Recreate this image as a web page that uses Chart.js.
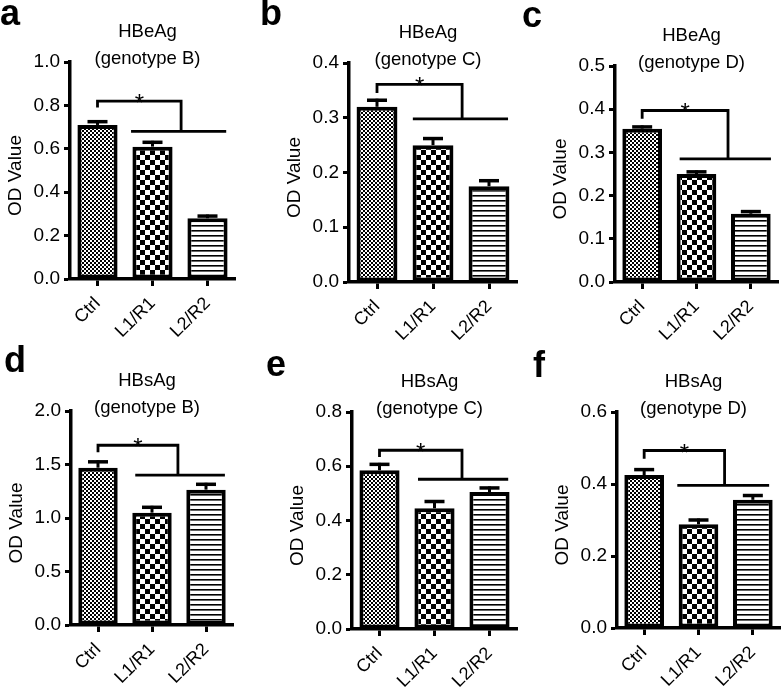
<!DOCTYPE html>
<html><head><meta charset="utf-8">
<script src="https://cdn.jsdelivr.net/npm/chart.js@4.4.0/dist/chart.umd.min.js"></script>
<style>
html,body{margin:0;padding:0;background:#fff;}
#wrap{position:relative;width:783px;height:689px;overflow:hidden;background:#fff;}
#wrap canvas{position:absolute;}
</style></head><body><div id="wrap"></div>
<script>
// ---------------- DATA ----------------
const categories = ['Ctrl', 'L1/R1', 'L2/R2'];
const panelLetters = ['a', 'b', 'c', 'd', 'e', 'f'];
const antigens = ['HBeAg', 'HBeAg', 'HBeAg', 'HBsAg', 'HBsAg', 'HBsAg'];
const genotypes = ['(genotype B)', '(genotype C)', '(genotype D)', '(genotype B)', '(genotype C)', '(genotype D)'];
const yAxisTitle = 'OD Value';

const valuesA = [0.71, 0.61, 0.28];
const errorsA = [0.015, 0.02, 0.01];
const valuesB = [0.32, 0.25, 0.175];
const errorsB = [0.012, 0.012, 0.01];
const valuesC = [0.355, 0.25, 0.158];
const errorsC = [0.004, 0.005, 0.005];
const valuesD = [1.47, 1.05, 1.265];
const errorsD = [0.055, 0.05, 0.05];
const valuesE = [0.585, 0.445, 0.505];
const errorsE = [0.022, 0.025, 0.015];
const valuesF = [0.425, 0.288, 0.356];
const errorsF = [0.015, 0.012, 0.012];

const yMaxes = [1.0, 0.4, 0.5, 2.0, 0.8, 0.6];
const yTickSteps = [0.2, 0.1, 0.1, 0.5, 0.2, 0.2];
const yTickDecimals = [1, 1, 1, 1, 1, 1];

// significance bracket levels (data units): [top, ctrl stub end, lower line]
const bracketLevels = [
  [0.82, 0.79, 0.68],
  [0.361, 0.345, 0.298],
  [0.397, 0.378, 0.285],
  [1.68, 1.615, 1.40],
  [0.659, 0.634, 0.552],
  [0.493, 0.47, 0.396]
];
// bracket x positions (category index units): [drop, lower start, lower end]
const bracketSpans = [
  [1.52, 0.61, 2.34],
  [1.52, 0.64, 2.34],
  [1.58, 0.69, 2.37],
  [1.48, 0.69, 2.35],
  [1.50, 0.70, 2.34],
  [1.48, 0.61, 2.30]
];
const significanceMark = '*';

const allValues = [valuesA, valuesB, valuesC, valuesD, valuesE, valuesF];
const allErrors = [errorsA, errorsB, errorsC, errorsD, errorsE, errorsF];

// ---------------- LAYOUT (pixels) ----------------
const cells = [
  {x: 0, y: 0}, {x: 261, y: 0}, {x: 522, y: 0},
  {x: 0, y: 344}, {x: 261, y: 344}, {x: 522, y: 344}
];
const cellW = 261, cellH = 345;
const plotBoxes = [
  {L: 70, R: 235, T: 62, B: 279},
  {L: 349, R: 517, T: 63, B: 282},
  {L: 615, R: 778, T: 66, B: 282},
  {L: 71, R: 233, T: 411, B: 625},
  {L: 352, R: 517, T: 412, B: 629},
  {L: 617, R: 780, T: 412, B: 628}
];
const letterPos = [
  {x: 0, y: 25}, {x: 260, y: 25}, {x: 522, y: 27},
  {x: 4, y: 372}, {x: 266, y: 376}, {x: 533, y: 377}
];
const FONT = '"Liberation Sans", Arial, Helvetica, sans-serif';

// ---------------- PATTERNS ----------------
function makePattern(kind) {
  const c = document.createElement('canvas');
  const g = c.getContext('2d');
  if (kind === 'fine') {
    c.width = 4; c.height = 4;
    g.fillStyle = '#fff'; g.fillRect(0, 0, 4, 4);
    g.fillStyle = '#000'; g.fillRect(0, 0, 2, 2); g.fillRect(2, 2, 2, 2);
  } else if (kind === 'coarse') {
    c.width = 10; c.height = 10;
    g.fillStyle = '#fff'; g.fillRect(0, 0, 10, 10);
    g.fillStyle = '#000'; g.fillRect(0, 0, 5, 5); g.fillRect(5, 5, 5, 5);
  } else {
    c.width = 5; c.height = 5;
    g.fillStyle = '#fff'; g.fillRect(0, 0, 5, 5);
    g.fillStyle = '#000'; g.fillRect(0, 0, 5, 1.6);
  }
  return g.createPattern(c, 'repeat');
}

// ---------------- DECORATION PLUGIN ----------------
const decor = {
  id: 'decor',
  afterDatasetsDraw(chart, args, o) {
    const p = o.panel;
    const ctx = chart.ctx, xs = chart.scales.x, ys = chart.scales.y;
    const meta = chart.getDatasetMeta(0);
    const vals = allValues[p], errs = allErrors[p];
    ctx.save();
    ctx.strokeStyle = '#000';
    ctx.lineCap = 'butt';
    // error bars
    meta.data.forEach((bar, i) => {
      const y0 = ys.getPixelForValue(vals[i]);
      const y1 = ys.getPixelForValue(vals[i] + errs[i]);
      ctx.lineWidth = 3;
      ctx.beginPath(); ctx.moveTo(bar.x, y0); ctx.lineTo(bar.x, y1 - 1.5); ctx.stroke();
      ctx.lineWidth = 3.5;
      ctx.beginPath(); ctx.moveTo(bar.x - 10, y1); ctx.lineTo(bar.x + 10, y1); ctx.stroke();
    });
    // significance bracket
    const lv = bracketLevels[p], sp = bracketSpans[p];
    const yTop = ys.getPixelForValue(lv[0]);
    const yStub = ys.getPixelForValue(lv[1]);
    const yLow = ys.getPixelForValue(lv[2]);
    const xCtrl = xs.getPixelForValue(0);
    const xDrop = xs.getPixelForValue(sp[0]);
    ctx.lineWidth = 2.8;
    ctx.lineJoin = 'miter';
    ctx.beginPath();
    ctx.moveTo(xCtrl, yStub); ctx.lineTo(xCtrl, yTop); ctx.lineTo(xDrop, yTop); ctx.lineTo(xDrop, yLow);
    ctx.stroke();
    ctx.beginPath();
    ctx.moveTo(xs.getPixelForValue(sp[1]), yLow); ctx.lineTo(xs.getPixelForValue(sp[2]), yLow);
    ctx.stroke();
    ctx.fillStyle = '#000';
    ctx.font = '24px ' + FONT;
    ctx.textAlign = 'center';
    ctx.textBaseline = 'alphabetic';
    ctx.fillText(significanceMark, (xCtrl + xDrop) / 2, yTop + 10);
    ctx.restore();
  },
  afterDraw(chart, args, o) {
    const p = o.panel;
    const ctx = chart.ctx, ca = chart.chartArea;
    ctx.save();
    ctx.fillStyle = '#000';
    // panel letter
    const cell = cells[p];
    ctx.font = 'bold 36px ' + FONT;
    ctx.textAlign = 'left'; ctx.textBaseline = 'alphabetic';
    ctx.fillText(panelLetters[p], letterPos[p].x - cell.x, letterPos[p].y - cell.y);
    // title
    const cx = (ca.left + ca.right) / 2 - 5;
    ctx.font = '18.5px ' + FONT;
    ctx.textAlign = 'center'; ctx.textBaseline = 'middle';
    ctx.fillText(antigens[p], cx, ca.top - 30);
    ctx.fillText(genotypes[p], cx, ca.top - 3);
    // y axis title
    ctx.save();
    ctx.translate(ca.left - 54, (ca.top + ca.bottom) / 2 + 5);
    ctx.rotate(-Math.PI / 2);
    ctx.font = '19px ' + FONT;
    ctx.fillText(yAxisTitle, 0, 0);
    ctx.restore();
    ctx.restore();
  }
};

// ---------------- BUILD ----------------
const wrap = document.getElementById('wrap');
const patterns = [makePattern('fine'), makePattern('coarse'), makePattern('stripe')];

for (let p = 0; p < 6; p++) {
  const cell = cells[p], box = plotBoxes[p];
  const cv = document.createElement('canvas');
  cv.width = cellW; cv.height = cellH;
  cv.style.left = cell.x + 'px'; cv.style.top = cell.y + 'px';
  cv.style.width = cellW + 'px'; cv.style.height = cellH + 'px';
  wrap.appendChild(cv);
  const yW = box.L - cell.x;
  const xH = cell.y + cellH - box.B;
  new Chart(cv.getContext('2d'), {
    type: 'bar',
    data: {
      labels: categories,
      datasets: [{
        data: allValues[p],
        backgroundColor: patterns,
        borderColor: '#000',
        borderWidth: 4,
        borderSkipped: false,
        categoryPercentage: 1,
        barPercentage: 0.73
      }]
    },
    options: {
      responsive: false,
      animation: false,
      devicePixelRatio: 1,
      layout: {padding: {left: 0, bottom: 0, top: box.T - cell.y, right: cell.x + cellW - box.R}},
      plugins: {legend: {display: false}, title: {display: false}, tooltip: {enabled: false}, decor: {panel: p}},
      scales: {
        x: {
          offset: true,
          grid: {display: true, drawOnChartArea: false, offset: false, drawTicks: true, tickLength: 7, tickWidth: 3, tickColor: '#000', color: '#000'},
          border: {display: true, color: '#000', width: 3.5},
          ticks: {color: '#000', font: {family: FONT, size: 18}, minRotation: 45, maxRotation: 45, autoSkip: false, padding: 7},
          afterFit(s) { s.height = xH; }
        },
        y: {
          min: 0, max: yMaxes[p],
          grid: {display: true, drawOnChartArea: false, drawTicks: true, tickLength: 6, tickWidth: 3, tickColor: '#000', color: '#000'},
          border: {display: true, color: '#000', width: 3.5},
          ticks: {color: '#000', stepSize: yTickSteps[p], font: {family: FONT, size: 19}, padding: 4,
            callback: (v) => Number(v).toFixed(yTickDecimals[p])},
          afterFit(s) { s.width = yW; }
        }
      }
    },
    plugins: [decor]
  });
}
</script></body></html>
